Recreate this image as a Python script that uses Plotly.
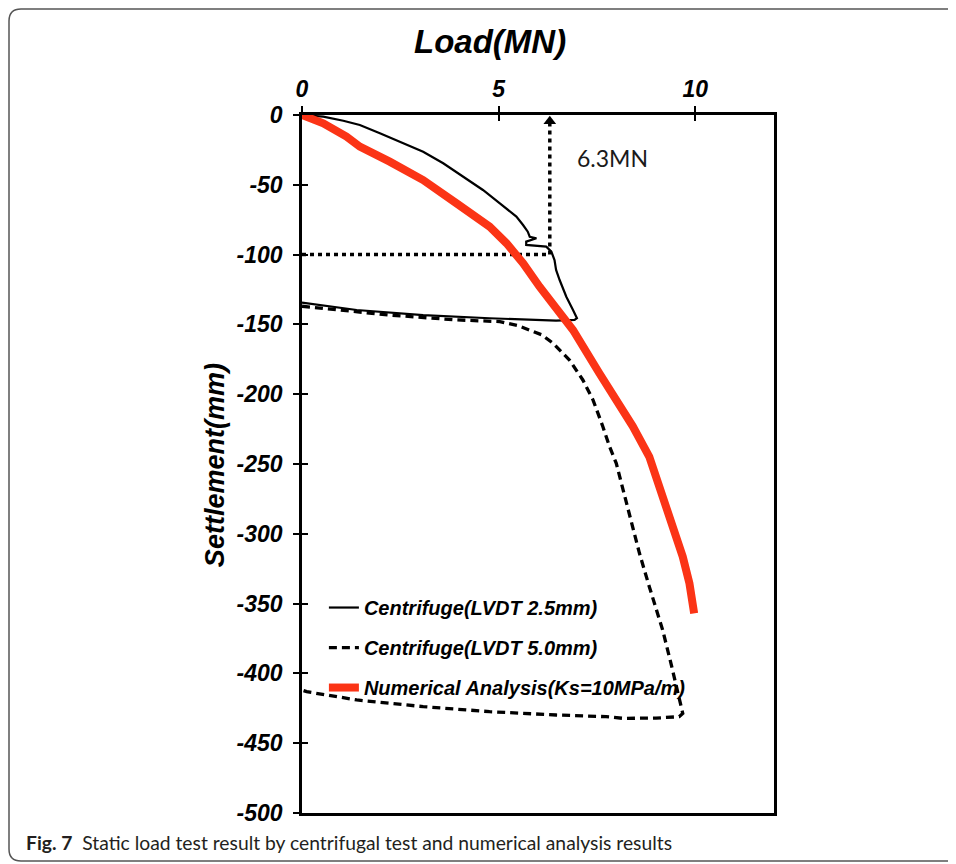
import plotly.graph_objects as go

# ---------------- data ----------------
# Centrifuge (LVDT 2.5mm): loading then unloading
x_lvdt25 = [0, 0.54, 1.05, 1.47, 1.98, 2.49, 3.08, 3.59, 4.09, 4.60, 5.03, 5.45, 5.62, 5.74, 5.79,
            5.96, 5.70, 5.70, 6.21, 6.34, 6.42, 6.46, 6.55, 6.72, 6.89, 6.99, 6.93, 6.46, 4.77, 3.08, 1.39, 0]
y_lvdt25 = [0, -1.2, -4.1, -7.2, -13.1, -19.1, -26.3, -34.6, -44.2, -53.7, -63.3, -72.8, -78.8, -83.6, -87.2,
            -88.3, -90.7, -93.1, -94.3, -97.9, -103.9, -111, -118.2, -130.2, -139.7, -145.6, -146.8, -147.3,
            -145.6, -143.3, -139.7, -134.4]

# Centrifuge (LVDT 5.0mm): reloading then unloading
x_lvdt50 = [0, 1.0, 2.23, 3.93, 5.03, 5.5, 5.8, 6.1, 6.38, 6.80, 7.14, 7.40, 7.65, 7.82, 7.99, 8.32, 8.58,
            8.83, 9.09, 9.17, 9.38, 9.55, 9.68, 9.59, 9.0, 8.16, 7.73, 6.46, 4.77, 3.08, 1.39, 0.12, 0]
y_lvdt50 = [-137, -140, -143.3, -146.8, -148, -151, -154, -157.5, -163.5, -175.5, -189.8, -204.2, -223.3,
            -237.6, -249.5, -285.3, -314, -337.9, -361.7, -369, -392.8, -414.3, -428.6, -431, -432, -432.2,
            -431, -429.8, -427.4, -423.8, -419, -413.1, -412]

# Numerical analysis (Ks=10MPa/m)
x_num = [0, 0.54, 1.13, 1.47, 2.23, 3.08, 3.93, 4.77, 5.2, 5.62, 6.04, 6.46, 6.89, 7.56, 8.41, 8.83,
         9.17, 9.42, 9.68, 9.85, 9.97]
y_num = [0, -6, -15.5, -22.7, -33.4, -46.6, -63.3, -80, -91.9, -106.2, -123, -137.3, -154, -185, -223,
         -244.8, -273.4, -292.5, -316.4, -335.5, -357]

# capacity reference
cap_load = 6.3
cap_settle = -100

x_ticks = [0, 5, 10]
x_ticktext = ["0", "5", "10"]
y_ticks = [0, -50, -100, -150, -200, -250, -300, -350, -400, -450, -500]
y_ticktext = ["0", "-50", "-100", "-150", "-200", "-250", "-300", "-350", "-400", "-450", "-500"]

series_names = ["Centrifuge(LVDT 2.5mm)", "Centrifuge(LVDT 5.0mm)", "Numerical Analysis(Ks=10MPa/m)"]

# ---------------- figure ----------------
# page has an 8px body margin: plot area sits at page x 302..774, y 115..813
FONT_B = dict(family="Liberation Sans, Arial, sans-serif", weight="bold", style="italic", color="black")

fig = go.Figure()

# dotted guide lines
fig.add_trace(go.Scatter(x=[0, cap_load, cap_load], y=[cap_settle, cap_settle, -4],
                         mode="lines", line=dict(color="black", width=3.5, dash="4px,4px"),
                         showlegend=False, hoverinfo="skip"))
fig.add_trace(go.Scatter(x=[cap_load], y=[-4.5], mode="markers",
                         marker=dict(symbol="triangle-up", size=11, color="black"),
                         showlegend=False, hoverinfo="skip"))

fig.add_trace(go.Scatter(x=x_lvdt25, y=y_lvdt25, mode="lines", name=series_names[0],
                         legendgroup="a", line=dict(color="black", width=2.2)))
fig.add_trace(go.Scatter(x=x_lvdt50, y=y_lvdt50, mode="lines", name=series_names[1],
                         legendgroup="b", line=dict(color="black", width=3.3, dash="8px,5px")))
fig.add_trace(go.Scatter(x=x_num, y=y_num, mode="lines", name=series_names[2],
                         legendgroup="c", line=dict(color="#FB3416", width=8)))

# dummy trace for overlay tick axes
fig.add_trace(go.Scatter(x=[None], y=[None], xaxis="x2", yaxis="y2", showlegend=False, hoverinfo="skip"))

axis_common = dict(showgrid=False, zeroline=False, showline=True, linecolor="black", linewidth=2.5,
                   ticks="outside", ticklen=6, tickwidth=2, tickcolor="black",
                   tickfont=dict(size=23, **FONT_B))

fig.update_layout(
    width=948, height=856,
    margin=dict(l=294, r=182, t=107, b=51),
    paper_bgcolor="white", plot_bgcolor="white",
    xaxis=dict(range=[0, 12], side="top", tickvals=x_ticks, ticktext=x_ticktext, mirror=True, **axis_common),
    yaxis=dict(range=[-500, 0], tickvals=y_ticks, ticktext=y_ticktext, mirror=True, ticklabelstandoff=6,
               **axis_common),
    xaxis2=dict(range=[0, 12], overlaying="x", side="top", tickvals=x_ticks, showticklabels=False,
                showgrid=False, zeroline=False, showline=False, ticks="inside", ticklen=6,
                tickwidth=2, tickcolor="black"),
    yaxis2=dict(range=[-500, 0], overlaying="y", side="left", tickvals=y_ticks, showticklabels=False,
                showgrid=False, zeroline=False, showline=False, ticks="inside", ticklen=6,
                tickwidth=2, tickcolor="black"),
    legend=dict(x=0.0464, xanchor="left", y=0.3223, yanchor="top", bgcolor="rgba(0,0,0,0)",
                font=dict(size=20, **FONT_B), tracegroupgap=11),
    showlegend=True,
)

# titles
fig.add_annotation(text="Load(MN)", xref="paper", yref="paper", x=0.398, y=1.1046,
                   showarrow=False, font=dict(size=33, **FONT_B), xanchor="center", yanchor="middle")
fig.add_annotation(text="Settlement(mm)", xref="paper", yref="paper", x=-0.184, y=0.4986, textangle=-90,
                   showarrow=False, font=dict(size=27, **FONT_B), xanchor="center", yanchor="middle")
fig.add_annotation(text=f"{cap_load}MN", xref="x", yref="y", x=6.93, y=-30.8, showarrow=False,
                   xanchor="left", yanchor="middle",
                   font=dict(family="Lato, Open Sans, sans-serif", size=23, color="#1a1a1a"))

# caption
fig.add_annotation(text="<b>Fig. 7</b>  Static load test result by centrifugal test and numerical analysis results",
                   xref="paper", yref="paper", x=(24 - 302) / 472, y=(813 - 843) / 698,
                   xanchor="left", yanchor="middle", showarrow=False,
                   font=dict(family="Lato, Open Sans, sans-serif", size=19.3, color="#231f20"))

# outer rounded frame
x0, x1 = (9 - 302) / 472, (970 - 302) / 472
y0, y1 = (813 - 861) / 698, (813 - 9) / 698
rx, ry = 12 / 472, 12 / 698
path = (f"M {x1},{y1} L {x0 + rx},{y1} Q {x0},{y1} {x0},{y1 - ry} "
        f"L {x0},{y0 + ry} Q {x0},{y0} {x0 + rx},{y0} L {x1},{y0}")
fig.add_shape(type="path", path=path, xref="paper", yref="paper",
              line=dict(color="#555555", width=1.5), layer="below")

fig.write_html("out.html")
